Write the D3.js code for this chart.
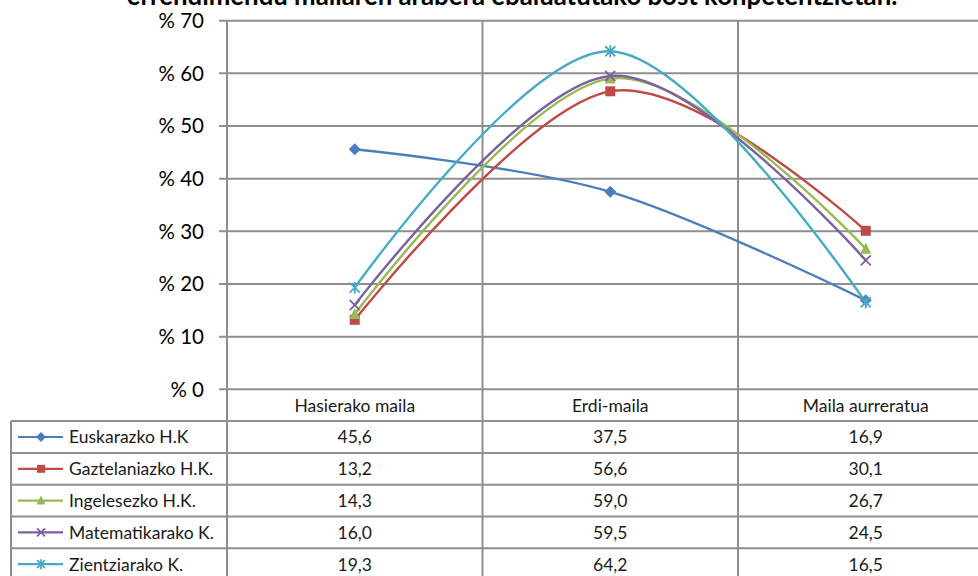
<!DOCTYPE html>
<html>
<head>
<meta charset="utf-8">
<script src="https://cdn.jsdelivr.net/npm/d3@7"></script>
<style>
  html, body { margin: 0; padding: 0; background: #fff; overflow: hidden; }
  svg { display: block; }
  text { font-family: Lato, "Open Sans", sans-serif; fill: #1a1a1a; }
</style>
</head>
<body>
<svg id="chart" width="978" height="576"></svg>
<script>
// Performance levels (x categories)
const categories = ["Hasierako maila", "Erdi-maila", "Maila aurreratua"];

// Series names, in legend/table order
const seriesNames = ["Euskarazko H.K", "Gaztelaniazko H.K.", "Ingelesezko H.K.", "Matematikarako K.", "Zientziarako K."];

// Percentage of students per level, one array per competence
const euskarazko    = [45.6, 37.5, 16.9];
const gaztelaniazko = [13.2, 56.6, 30.1];
const ingelesezko   = [14.3, 59.0, 26.7];
const matematikarako = [16.0, 59.5, 24.5];
const zientziarako  = [19.3, 64.2, 16.5];

const yTicks = [0, 10, 20, 30, 40, 50, 60, 70];
const yTickLabels = ["% 0", "% 10", "% 20", "% 30", "% 40", "% 50", "% 60", "% 70"];

const titleText = "errendimendu mailaren arabera ebaluatutako bost konpetentzietan.";

const seriesValues = [euskarazko, gaztelaniazko, ingelesezko, matematikarako, zientziarako];
const seriesColors = ["#4A7EBB", "#BE4B48", "#98B954", "#7D60A0", "#46AAC5"];
const seriesMarkers = ["diamond", "square", "triangle", "x", "star"];

const svg = d3.select("#chart");
const gridColor = "#8e8e8e";

// Geometry
const plotLeft = 227, bandW = 255.5;
const yTop = 20.7, yBottom = 389.3;
const rowH = 31.8;
const tableLeft = 11;
const tableFont = "17.5px";

const x = d3.scaleBand().domain(categories).range([plotLeft, plotLeft + bandW * categories.length]).padding(0);
const y = d3.scaleLinear().domain([0, 70]).range([yBottom, yTop]);

// Title (runs off the top of the page)
const title = svg.append("text")
  .attr("x", 512).attr("y", 4.8)
  .attr("text-anchor", "middle")
  .style("font-weight", "bold")
  .style("font-size", "22px")
  .style("fill", "#000")
  .text(titleText);
{
  const w = title.node().getComputedTextLength();
  const target = 771;
  title.style("font-size", (22 * target / w).toFixed(2) + "px");
}

// Horizontal gridlines with outside tick marks
const grid = svg.append("g");
grid.selectAll("line.h").data(yTicks).join("line")
  .attr("x1", plotLeft - 8).attr("x2", 978)
  .attr("y1", d => y(d)).attr("y2", d => y(d))
  .attr("stroke", gridColor).attr("stroke-width", 2);

// Vertical category boundary lines (continue through the data table)
const nRows = seriesNames.length;
const tableBottom = yBottom + rowH * (nRows + 1) + 10;
const boundaries = categories.map(c => x(c));
grid.selectAll("line.v").data(boundaries).join("line")
  .attr("x1", d => d).attr("x2", d => d)
  .attr("y1", yTop)
  .attr("y2", tableBottom)
  .attr("stroke", gridColor).attr("stroke-width", 2);

// Y tick labels
svg.append("g").selectAll("text").data(yTicks).join("text")
  .attr("x", 204).attr("y", d => y(d))
  .attr("dy", "0.36em")
  .attr("text-anchor", "end")
  .style("font-size", "20.5px")
  .style("fill", "#000")
  .text((d, i) => yTickLabels[i]);

// Data table
const table = svg.append("g");
const rowTop = i => yBottom + rowH * (i + 1);   // i = series index
const rowLines = d3.range(nRows + 1).map(i => rowTop(i));
table.selectAll("line.r").data(rowLines).join("line")
  .attr("x1", tableLeft).attr("x2", 978)
  .attr("y1", d => d).attr("y2", d => d)
  .attr("stroke", gridColor).attr("stroke-width", 2);
// left border of the legend column
table.append("line")
  .attr("x1", tableLeft).attr("x2", tableLeft)
  .attr("y1", rowTop(0)).attr("y2", tableBottom)
  .attr("stroke", gridColor).attr("stroke-width", 2);

// Column headers
table.selectAll("text.hdr").data(categories).join("text")
  .attr("x", d => x(d) + x.bandwidth() / 2)
  .attr("y", (yBottom + rowTop(0)) / 2)
  .attr("dy", "0.36em")
  .attr("text-anchor", "middle")
  .style("font-size", tableFont)
  .text(d => d);

// Cell values
seriesValues.forEach((vals, si) => {
  const cy = rowTop(si) + rowH / 2;
  table.selectAll("text.v" + si).data(vals).join("text")
    .attr("x", (d, ci) => x(categories[ci]) + x.bandwidth() / 2)
    .attr("y", cy)
    .attr("dy", "0.36em")
    .attr("text-anchor", "middle")
    .style("font-size", tableFont)
    .text(d => d.toFixed(1).replace(".", ","));
});

// Marker drawing helper
function drawMarker(g, type, cx, cy, s, color) {
  const h = s / 2;
  if (type === "diamond") {
    g.append("path").attr("d", `M${cx},${cy - h - 1}L${cx + h + 1},${cy}L${cx},${cy + h + 1}L${cx - h - 1},${cy}Z`)
      .attr("fill", color);
  } else if (type === "square") {
    g.append("rect").attr("x", cx - h).attr("y", cy - h).attr("width", s).attr("height", s).attr("fill", color);
  } else if (type === "triangle") {
    g.append("path").attr("d", `M${cx},${cy - h - 1}L${cx + h + 0.5},${cy + h}L${cx - h - 0.5},${cy + h}Z`).attr("fill", color);
  } else if (type === "x") {
    g.append("path").attr("d", `M${cx - h},${cy - h}L${cx + h},${cy + h}M${cx - h},${cy + h}L${cx + h},${cy - h}`)
      .attr("stroke", color).attr("stroke-width", 1.8).attr("fill", "none");
  } else if (type === "star") {
    g.append("path").attr("d", `M${cx - h},${cy - h}L${cx + h},${cy + h}M${cx - h},${cy + h}L${cx + h},${cy - h}M${cx},${cy - h - 1}L${cx},${cy + h + 1}`)
      .attr("stroke", color).attr("stroke-width", 1.8).attr("fill", "none");
  }
}

// Legend keys inside the table
seriesNames.forEach((name, si) => {
  const cy = rowTop(si) + rowH / 2;
  const g = table.append("g");
  g.append("line").attr("x1", 18).attr("x2", 63).attr("y1", cy).attr("y2", cy)
    .attr("stroke", seriesColors[si]).attr("stroke-width", 2.2);
  drawMarker(g, seriesMarkers[si], 41, cy, 8, seriesColors[si]);
  g.append("text").attr("x", 69).attr("y", cy).attr("dy", "0.36em")
    .style("font-size", tableFont).text(name);
});

// Smoothed series lines
const line = d3.line()
  .x((d, i) => x(categories[i]) + x.bandwidth() / 2)
  .y(d => y(d))
  .curve(d3.curveCardinal.tension(0));

const plot = svg.append("g");
seriesValues.forEach((vals, si) => {
  plot.append("path").datum(vals)
    .attr("d", line)
    .attr("fill", "none")
    .attr("stroke", seriesColors[si])
    .attr("stroke-width", 2.4);
});
seriesValues.forEach((vals, si) => {
  const g = plot.append("g");
  vals.forEach((v, ci) => {
    drawMarker(g, seriesMarkers[si], x(categories[ci]) + x.bandwidth() / 2, y(v), 10, seriesColors[si]);
  });
});
</script>
</body>
</html>
